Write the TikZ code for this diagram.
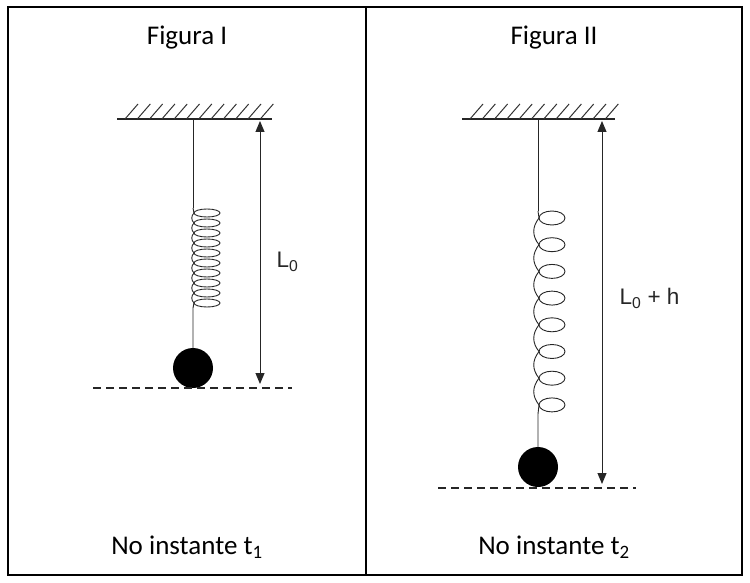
\documentclass[tikz,border=0pt]{standalone}
\usepackage{fontspec}
\setmainfont{Carlito}
\newfontfamily\labelfont{Liberation Sans}
\usetikzlibrary{arrows.meta}

\tikzset{
    ceiling/.style={line width=1.4pt, black!85},
    hatch/.style={line width=1pt, black!80},
    wire/.style={line width=0.9pt, black!85},
    ball/.style={circle, fill=black, minimum size=40pt, inner sep=0pt},
    level/.style={line width=1.2pt, black!85, dash pattern=on 8pt off 5pt},
    dimarrow/.style={line width=1pt, black!85, {Triangle[length=11pt,width=9pt]}-{Triangle[length=11pt,width=9pt]}},
    caption/.style={font=\fontsize{27}{32}\selectfont},
    dimlabel/.style={font=\labelfont\fontsize{22.5}{26}\selectfont, text=black!85, anchor=west}
}

\begin{document}
\begin{tikzpicture}[x=1pt,y=-1pt]
    \useasboundingbox (0,0) rectangle (750,583);

    % frame
    \draw[line width=2.5pt] (8,7) rectangle (742,575);
    \draw[line width=2pt] (366,7) -- (366,575);

    \node[caption] (title1) at (187,38) {Figura I};
    \node[caption] (title2) at (554,38) {Figura II};
    \node[caption] (when1) at (187,547) {No instante t\textsubscript{1}};
    \node[caption] (when2) at (554,547) {No instante t\textsubscript{2}};

    % ceilings
    \draw[ceiling] (117,119) -- (272,119);
    \foreach \x in {125,137.3,...,262}
        \draw[hatch] (\x,119) -- ++(13,-15);
    \draw[ceiling] (462,119) -- (615,119);
    \foreach \x in {470,482.3,...,607}
        \draw[hatch] (\x,119) -- ++(13,-15);

    % figure I: spring and mass
    \coordinate (hook1) at (193,119);
    \node[ball] (m1) at (193,368) {};
    \draw[wire] (hook1) -- (193,208);
    \foreach \k in {0,...,9} {
        \draw[wire] (207,213+10*\k) ellipse (13 and 4);
    }
    \foreach \k in {0,...,8} {
        \draw[wire] (194,213+10*\k) .. controls (191,216+10*\k) and (191,220+10*\k) .. (194,223+10*\k);
    }
    \draw[wire] (193,208) -- (194,213);
    \draw[wire] (194,303) -- (193,308) -- (m1.north);
    \draw[level] (93,388) -- (292,388);

    \coordinate (top1) at (260,121);
    \coordinate (bot1) at (260,384);
    \draw[dimarrow] (top1) -- (bot1);
    \node[dimlabel] (len1) at (273,262) {L\textsubscript{0}};

    % figure II: spring and mass
    \coordinate (hook2) at (538,119);
    \node[ball] (m2) at (538,467) {};
    \draw[wire] (hook2) -- (538,211);
    \foreach \k in {0,...,7} {
        \draw[wire] (552,218+26.7*\k) ellipse (13 and 7);
    }
    \foreach \k in {0,...,6} {
        \draw[wire] (539,218+26.7*\k) .. controls (532,227+26.7*\k) and (532,236+26.7*\k) .. (539,244.7+26.7*\k);
    }
    \draw[wire] (538,211) .. controls (538,215) .. (539,218);
    \draw[wire] (539,405) .. controls (538,410) .. (538,414) -- (m2.north);
    \draw[level] (438,488) -- (636,488);

    \coordinate (top2) at (602,121);
    \coordinate (bot2) at (602,484);
    \draw[dimarrow] (top2) -- (bot2);
    \node[dimlabel] (len2) at (616,298) {L\textsubscript{0} + h};
\end{tikzpicture}
\end{document}
